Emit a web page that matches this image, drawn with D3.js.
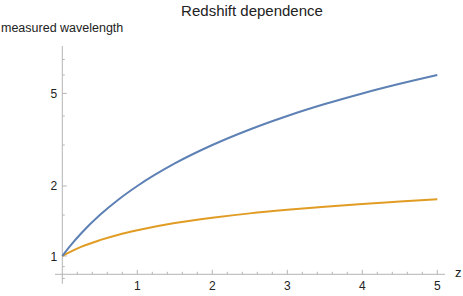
<!DOCTYPE html>
<html>
<head>
<meta charset="utf-8">
<script src="https://cdn.jsdelivr.net/npm/d3@7"></script>
<style>
  body { margin: 0; background: #fff; }
  text { font-family: "Liberation Sans", Arial, sans-serif; fill: #222; }
</style>
</head>
<body>
<div id="chart"></div>
<script>
// values
var zValues      = [0, 0.1, 0.25, 0.5, 0.75, 1, 1.5, 2, 2.5, 3, 3.5, 4, 4.5, 5];
var blueValues   = [1, 1.1, 1.25, 1.5, 1.75, 2, 2.5, 3, 3.5, 4, 4.5, 5, 5.5, 6];
var orangeValues = [1, 1.04, 1.095, 1.17, 1.235, 1.29, 1.385, 1.46, 1.525, 1.58, 1.63, 1.675, 1.715, 1.755];
var xTicks = [1, 2, 3, 4, 5];
var xMinor = d3.range(0.2, 5.01, 0.2).filter(function (d) { return Math.abs(d - Math.round(d)) > 0.01; });
var yTicks = [1, 2, 5];
var yMinor = [0.8, 0.9, 1.5, 3, 4, 6, 7];

var width = 463, height = 296;

var svg = d3.select("#chart")
    .append("svg")
    .attr("width", width)
    .attr("height", height);

var x = d3.scaleLinear().domain([0, 5]).range([62.3, 437.3]);
// log scale, 1 at y=256 and ~232.6px per decade
var y = d3.scaleLog().domain([1, 10]).range([256, 23.4]);

var axisColor = "#b5b5b5";
var xAxisY = 274.3;

// x axis
var gx = svg.append("g");
gx.append("line")
    .attr("x1", 55).attr("x2", 445)
    .attr("y1", xAxisY).attr("y2", xAxisY)
    .attr("stroke", axisColor);
gx.selectAll(".maj").data(xTicks).enter().append("line")
    .attr("x1", function (d) { return x(d); }).attr("x2", function (d) { return x(d); })
    .attr("y1", xAxisY).attr("y2", xAxisY - 4.5)
    .attr("stroke", axisColor);
gx.selectAll(".min").data(xMinor).enter().append("line")
    .attr("x1", function (d) { return x(d); }).attr("x2", function (d) { return x(d); })
    .attr("y1", xAxisY).attr("y2", xAxisY - 2.5)
    .attr("stroke", axisColor);
gx.selectAll("text").data(xTicks).enter().append("text")
    .attr("x", function (d) { return x(d); })
    .attr("y", xAxisY + 15.5)
    .attr("text-anchor", "middle")
    .style("font-size", "12px")
    .text(function (d) { return d; });

// y axis
var gy = svg.append("g");
gy.append("line")
    .attr("x1", x(0)).attr("x2", x(0))
    .attr("y1", y(0.76)).attr("y2", y(8))
    .attr("stroke", axisColor);
gy.selectAll(".maj").data(yTicks).enter().append("line")
    .attr("x1", x(0)).attr("x2", x(0) + 4.5)
    .attr("y1", function (d) { return y(d); }).attr("y2", function (d) { return y(d); })
    .attr("stroke", axisColor);
gy.selectAll(".min").data(yMinor).enter().append("line")
    .attr("x1", x(0)).attr("x2", x(0) + 2.5)
    .attr("y1", function (d) { return y(d); }).attr("y2", function (d) { return y(d); })
    .attr("stroke", axisColor);
gy.selectAll("text").data(yTicks).enter().append("text")
    .attr("x", x(0) - 5)
    .attr("y", function (d) { return y(d) + 4.5; })
    .attr("text-anchor", "end")
    .style("font-size", "12px")
    .text(function (d) { return d; });

// curves
var line = d3.line()
    .x(function (d) { return x(d[0]); })
    .y(function (d) { return y(d[1]); })
    .curve(d3.curveMonotoneX);

svg.append("path")
    .datum(d3.zip(zValues, orangeValues))
    .attr("d", line)
    .attr("fill", "none")
    .attr("stroke", "#e19c24")
    .attr("stroke-width", 2);

svg.append("path")
    .datum(d3.zip(zValues, blueValues))
    .attr("d", line)
    .attr("fill", "none")
    .attr("stroke", "#5e81b5")
    .attr("stroke-width", 2);

// labels
svg.append("text")
    .attr("x", 252).attr("y", 16)
    .attr("text-anchor", "middle")
    .style("font-size", "15px")
    .text("Redshift dependence");

svg.append("text")
    .attr("x", 1).attr("y", 32)
    .style("font-size", "12.5px")
    .text("measured wavelength");

svg.append("text")
    .attr("x", 455).attr("y", 277)
    .style("font-size", "13px")
    .text("z");
</script>
</body>
</html>
